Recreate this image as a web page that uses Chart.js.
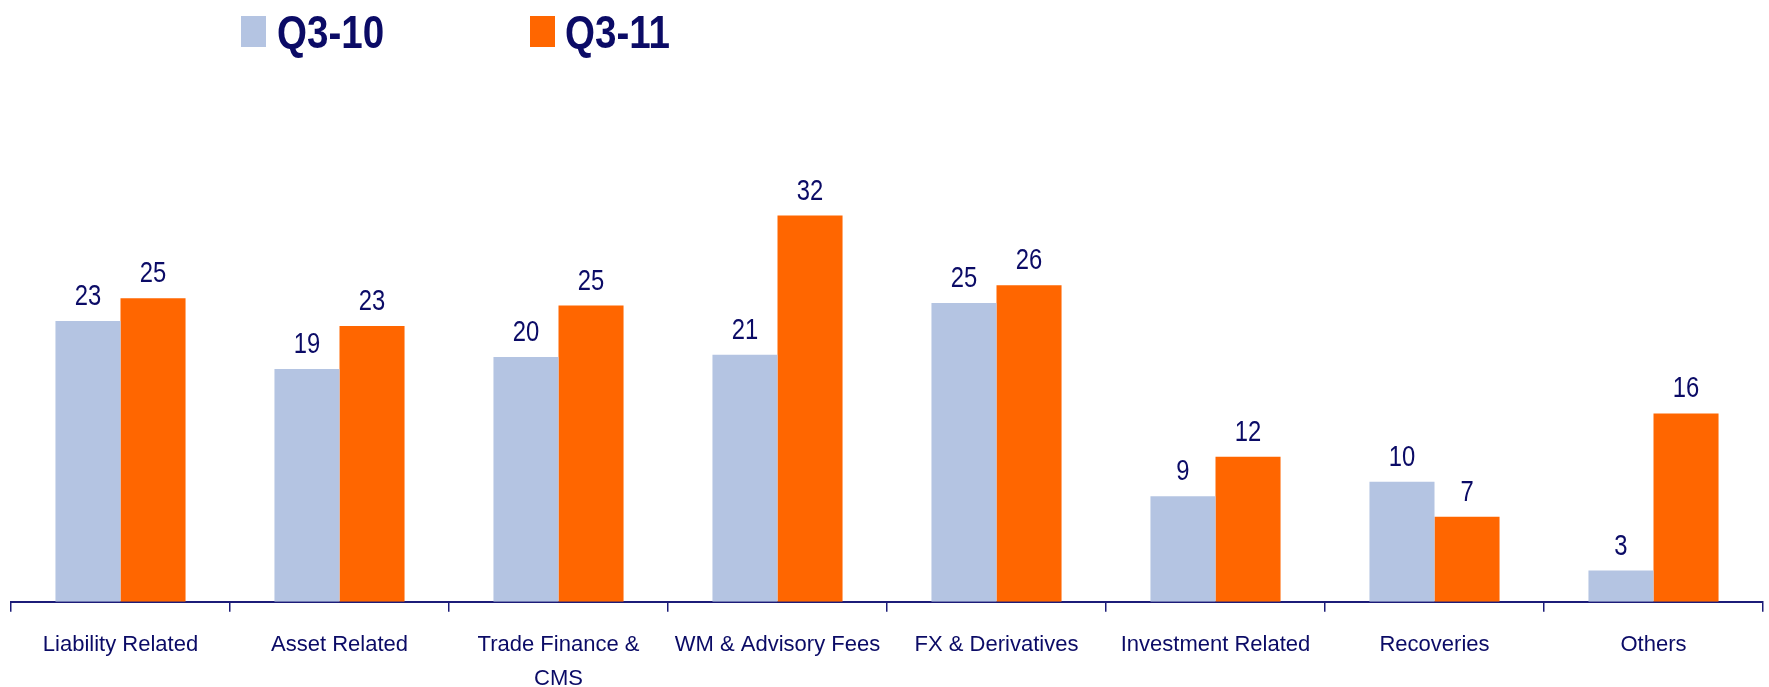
<!DOCTYPE html>
<html>
<head>
<meta charset="utf-8">
<title>Fee income by product: Q3-10 vs Q3-11</title>
<script src="https://cdn.jsdelivr.net/npm/chart.js@4.4.0/dist/chart.umd.min.js"></script>
<style>
  html, body { margin: 0; padding: 0; background: #fff; overflow: hidden; }
  #wrap { position: relative; width: 1769px; height: 720px; }
  #legend { position: absolute; top: 0; left: 0; z-index: 2; }
  .lg-box { position: absolute; top: 16px; width: 25px; height: 31px; }
  .lg-text { position: absolute; top: 8px; font: bold 47px 'Liberation Sans', Arial, sans-serif; line-height: 1; color: #0b0b66;
             white-space: nowrap; transform: scaleX(0.82); transform-origin: 0 0; }
</style>
</head>
<body>
<div id="wrap">
  <div id="legend"></div>
  <canvas id="feeChart"></canvas>
</div>
<script>
/* ---- data ---- */
var categories = ['Liability Related', 'Asset Related', ['Trade Finance &', 'CMS'], 'WM & Advisory Fees',
                  'FX & Derivatives', 'Investment Related', 'Recoveries', 'Others'];
var seriesNames = ['Q3-10', 'Q3-11'];
var q310 = [23.4, 19.4, 20.4, 20.6, 24.9, 8.8, 10.0, 2.6];
var q311 = [25.3, 23.0, 24.7, 32.2, 26.4, 12.1, 7.1, 15.7];

var seriesColors = ['#b4c4e2', '#ff6600'];
var NAVY = '#0b0b66';
var AXIS = '#1c1c78';
var FONT = "'Liberation Sans', Arial, sans-serif";

/* ---- legend (html, above the canvas) ---- */
var legendPos = [{ box: 241, text: 277 }, { box: 530, text: 565 }];
var legendEl = document.getElementById('legend');
seriesNames.forEach(function(name, i) {
  var box = document.createElement('div');
  box.className = 'lg-box';
  box.style.left = legendPos[i].box + 'px';
  box.style.background = seriesColors[i];
  var txt = document.createElement('div');
  txt.className = 'lg-text';
  txt.style.left = legendPos[i].text + 'px';
  txt.textContent = name;
  legendEl.appendChild(box);
  legendEl.appendChild(txt);
});

/* value labels above each bar (squeezed a little, like the original narrow face) */
var valueLabels = {
  id: 'valueLabels',
  afterDatasetsDraw: function(chart) {
    var ctx = chart.ctx;
    chart.data.datasets.forEach(function(ds, i) {
      chart.getDatasetMeta(i).data.forEach(function(bar, j) {
        ctx.save();
        ctx.font = '29px ' + FONT;
        ctx.fillStyle = NAVY;
        ctx.textAlign = 'center';
        ctx.textBaseline = 'alphabetic';
        ctx.translate(bar.x, bar.y - 16);
        ctx.scale(0.82, 1);
        ctx.fillText(String(Math.round(ds.data[j])), 0, 0);
        ctx.restore();
      });
    });
  }
};

new Chart(document.getElementById('feeChart'), {
  type: 'bar',
  data: {
    labels: categories,
    datasets: [
      { label: seriesNames[0], data: q310, backgroundColor: seriesColors[0], borderWidth: 0 },
      { label: seriesNames[1], data: q311, backgroundColor: seriesColors[1], borderWidth: 0 }
    ]
  },
  options: {
    responsive: true,
    maintainAspectRatio: false,
    animation: false,
    barPercentage: 1.0,
    categoryPercentage: 0.594,
    layout: { padding: { left: 11, right: 6, top: 122, bottom: 8 } },
    plugins: { legend: { display: false }, tooltip: { enabled: false } },
    scales: {
      x: {
        grid: { offset: true, drawOnChartArea: false, drawTicks: true, tickLength: 10, color: AXIS, lineWidth: 1.5 },
        border: { color: AXIS, width: 2 },
        ticks: { color: NAVY, font: { family: FONT, size: 22, lineHeight: 1.55 }, padding: 16, autoSkip: false, maxRotation: 0 }
      },
      y: { display: false, min: 0, max: 40 }
    }
  },
  plugins: [valueLabels]
});
</script>
</body>
</html>
